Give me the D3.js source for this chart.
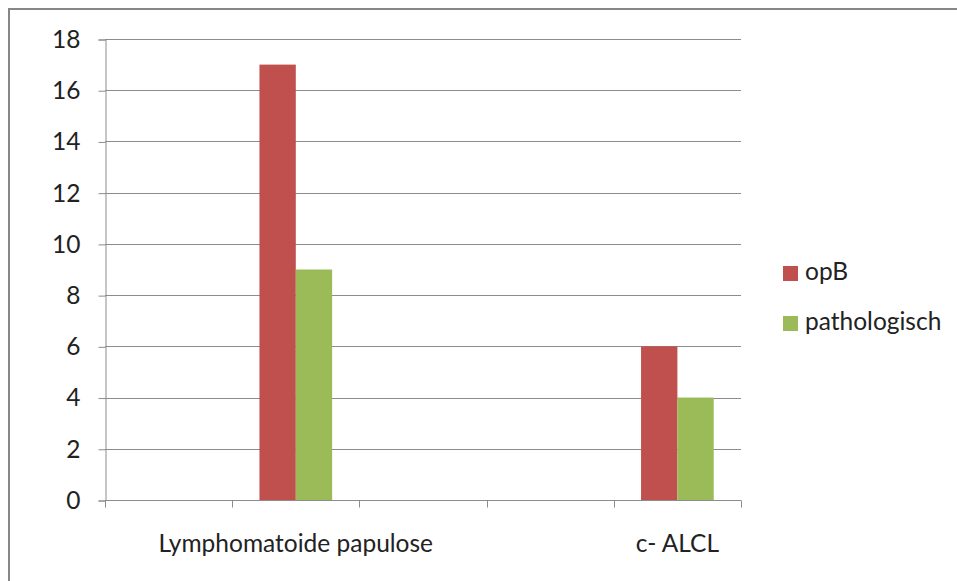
<!DOCTYPE html>
<html>
<head>
<meta charset="utf-8">
<script src="https://cdn.jsdelivr.net/npm/d3@7"></script>
<style>
  html, body { margin: 0; padding: 0; background: #fff; }
  svg { display: block; }
  text { font-family: Lato, "Open Sans", sans-serif; fill: #222; }
</style>
</head>
<body>
<svg id="chart" width="957" height="581"></svg>
<script>
  // chart data
  const categories = ["", "Lymphomatoide papulose", "", "", "c- ALCL"];
  const seriesNames = ["opB", "pathologisch"];
  const opB = [0, 17, 0, 0, 6];
  const pathologisch = [0, 9, 0, 0, 4];
  const yTicks = [0, 2, 4, 6, 8, 10, 12, 14, 16, 18];
  const colors = ["#C0504D", "#9BBB59"];

  const fontSize = 24.5;
  const svg = d3.select("#chart");
  const plot = { left: 105, right: 741, top: 39, bottom: 500 };

  // outer frame, runs off the right and bottom edges
  svg.append("rect")
    .attr("x", 9).attr("y", 9)
    .attr("width", 1000).attr("height", 1000)
    .attr("fill", "none")
    .attr("stroke", "#878787")
    .attr("stroke-width", 2);

  const x = d3.scaleBand()
    .domain(d3.range(categories.length))
    .range([plot.left, plot.right])
    .paddingInner(0).paddingOuter(0);

  const y = d3.scaleLinear().domain([0, 18]).range([plot.bottom, plot.top]);

  // group width: 2 bars + 150% gap
  const barW = x.bandwidth() / 3.5;
  const xs = d3.scaleBand().domain(seriesNames).range([0, barW * 2]);

  // gridlines
  svg.append("g")
    .selectAll("line")
    .data(yTicks.filter((d) => d > 0))
    .join("line")
    .attr("x1", plot.left).attr("x2", plot.right)
    .attr("y1", (d) => Math.round(y(d)) + 0.5)
    .attr("y2", (d) => Math.round(y(d)) + 0.5)
    .attr("stroke", "#8c8c8c")
    .attr("stroke-width", 1);

  // y axis
  const yAxis = svg.append("g")
    .attr("transform", `translate(${plot.left + 0.5},0.5)`)
    .call(d3.axisLeft(y).tickValues(yTicks).tickSize(7).tickPadding(18));
  yAxis.select(".domain").attr("stroke", "#8c8c8c");
  yAxis.selectAll(".tick line").attr("stroke", "#8c8c8c");
  yAxis.selectAll(".tick text")
    .attr("font-size", fontSize)
    .attr("font-family", "Lato, sans-serif")
    .attr("fill", "#222");

  // bars
  const series = [opB, pathologisch];
  series.forEach((vals, si) => {
    svg.append("g")
      .selectAll("rect")
      .data(vals.map((v, i) => ({ i, v })).filter((d) => d.v > 0))
      .join("rect")
      .attr("x", (d) => x(d.i) + (x.bandwidth() - barW * 2) / 2 + xs(seriesNames[si]))
      .attr("y", (d) => y(d.v))
      .attr("width", barW)
      .attr("height", (d) => y(0) - y(d.v))
      .attr("fill", colors[si]);
  });

  // x axis with tick marks at the category boundaries
  const xAxisG = svg.append("g").attr("transform", `translate(0,${plot.bottom + 0.5})`);
  xAxisG.append("line")
    .attr("x1", plot.left).attr("x2", plot.right)
    .attr("stroke", "#8c8c8c");
  xAxisG.selectAll(".xtick")
    .data(d3.range(categories.length + 1))
    .join("line")
    .attr("class", "xtick")
    .attr("x1", (i) => Math.round(plot.left + i * x.step()) + 0.5)
    .attr("x2", (i) => Math.round(plot.left + i * x.step()) + 0.5)
    .attr("y1", 0).attr("y2", 7)
    .attr("stroke", "#8c8c8c");
  xAxisG.selectAll(".xlabel")
    .data(d3.range(categories.length))
    .join("text")
    .attr("class", "xlabel")
    .attr("x", (i) => x(i) + x.bandwidth() / 2)
    .attr("y", 51)
    .attr("text-anchor", "middle")
    .attr("font-size", fontSize)
    .text((i) => categories[i]);

  // legend
  const legend = svg.append("g").attr("transform", "translate(783,266)");
  seriesNames.forEach((name, i) => {
    const g = legend.append("g").attr("transform", `translate(0,${i * 50})`);
    g.append("rect").attr("width", 15).attr("height", 15).attr("fill", colors[i]);
    g.append("text")
      .attr("x", 22).attr("y", 14)
      .attr("font-size", fontSize)
      .text(name);
  });
</script>
</body>
</html>
